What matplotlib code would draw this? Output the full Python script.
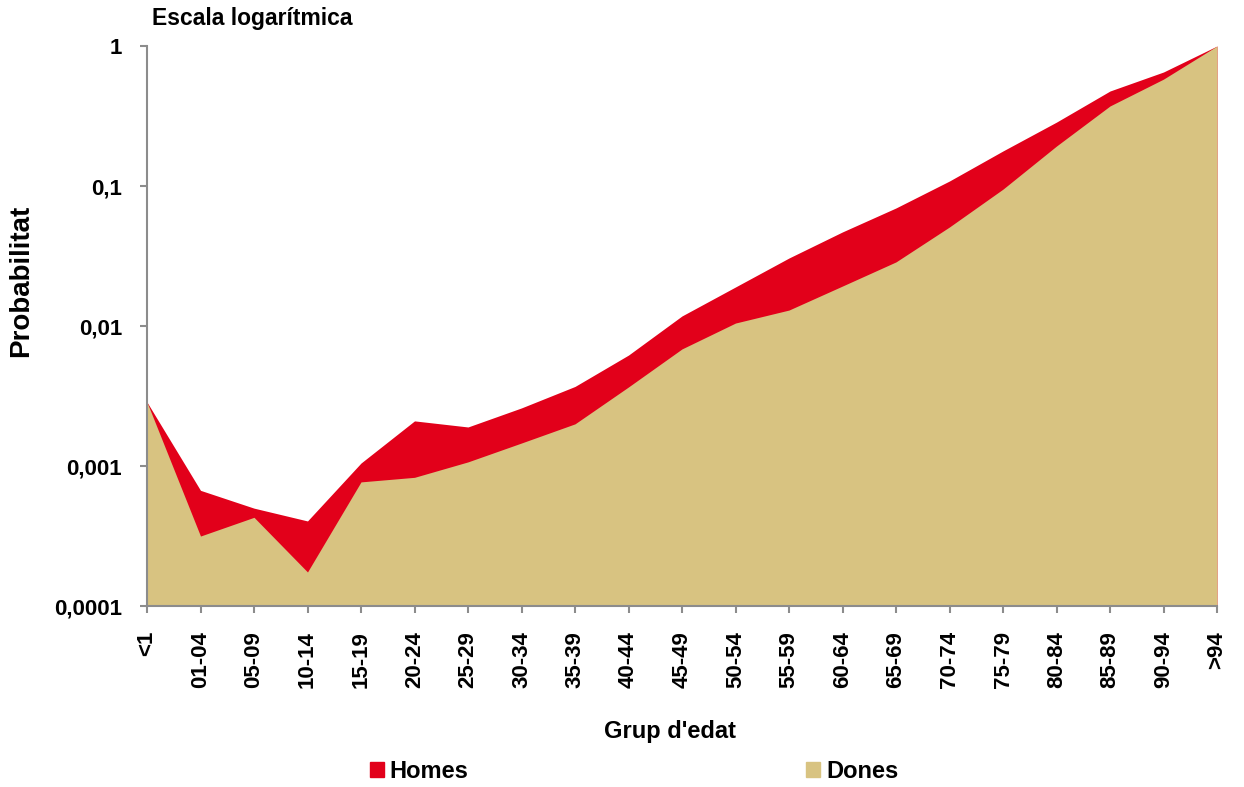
import numpy as np
import matplotlib.pyplot as plt
from matplotlib.patches import Patch

plt.rcParams['font.family'] = ['Liberation Sans', 'DejaVu Sans']
plt.rcParams['font.weight'] = 'bold'

# Dades
grups = ["<1", "01-04", "05-09", "10-14", "15-19", "20-24", "25-29", "30-34",
         "35-39", "40-44", "45-49", "50-54", "55-59", "60-64", "65-69",
         "70-74", "75-79", "80-84", "85-89", "90-94", ">94"]
homes = [0.00286, 0.00067, 0.0005, 0.000405, 0.00105, 0.0021, 0.0019, 0.0026,
         0.0037, 0.0062, 0.0118, 0.019, 0.0306, 0.047, 0.0697,
         0.1086, 0.178, 0.286, 0.477, 0.652, 1.0]
dones = [0.00286, 0.000316, 0.00043, 0.000175, 0.00077, 0.00083, 0.00107, 0.00146,
         0.002, 0.00367, 0.00686, 0.0105, 0.013, 0.0193, 0.0287,
         0.051, 0.095, 0.193, 0.373, 0.58, 1.0]

vermell = "#e2001a"
beix = "#d8c381"
gris = "#8c8c8c"

fig = plt.figure(figsize=(12.44, 7.87), dpi=100)
ax = fig.add_axes([147/1244, 1 - 606/787, (1217-147)/1244, (606-46)/787])

x = np.arange(len(grups))
ax.fill_between(x, 1e-4, homes, color=vermell, linewidth=0, label="Homes")
ax.fill_between(x, 1e-4, dones, color=beix, linewidth=0, label="Dones")

ax.set_yscale("log")
ax.set_ylim(1e-4, 1)
ax.set_xlim(0, len(grups) - 1)
ax.set_yticks([1e-4, 1e-3, 1e-2, 1e-1, 1])
ax.set_yticklabels(["0,0001", "0,001", "0,01", "0,1", "1"])
ax.minorticks_off()
ax.set_xticks(x)
ax.set_xticklabels(grups, rotation=90)

for s in ["top", "right"]:
    ax.spines[s].set_visible(False)
for s in ["left", "bottom"]:
    ax.spines[s].set_color(gris)
    ax.spines[s].set_linewidth(1.5)
ax.tick_params(axis="both", colors=gris, labelcolor="black", labelsize=16,
               length=5, width=1.5, direction="out", pad=13)

# etiquetes dels eixos, posades a mà per quadrar amb l'original
ax.set_ylabel("Probabilitat", fontsize=20, fontweight="bold")
ax.yaxis.set_label_coords((34 - 147) / 1070, (606 - 281) / 560)
ax.set_xlabel("Grup d'edat", fontsize=17, fontweight="bold")
ax.xaxis.set_label_coords((670 - 147) / 1070, (606 - 720) / 560)
fig.text(152/1244, 1 - 19/787, "Escala logarítmica", fontsize=16.5,
         fontweight="bold", va="center", ha="left")

handles = [Patch(color=vermell, label="Homes"), Patch(color=beix, label="Dones")]
fig.legend(handles=handles, loc="center", bbox_to_anchor=(634/1244, 1 - 771/787),
           ncol=2, frameon=False, fontsize=17, handlelength=0.6, handleheight=0.6,
           handletextpad=0.25, columnspacing=14.3, borderpad=0)

fig.savefig("out.png", dpi=100)
